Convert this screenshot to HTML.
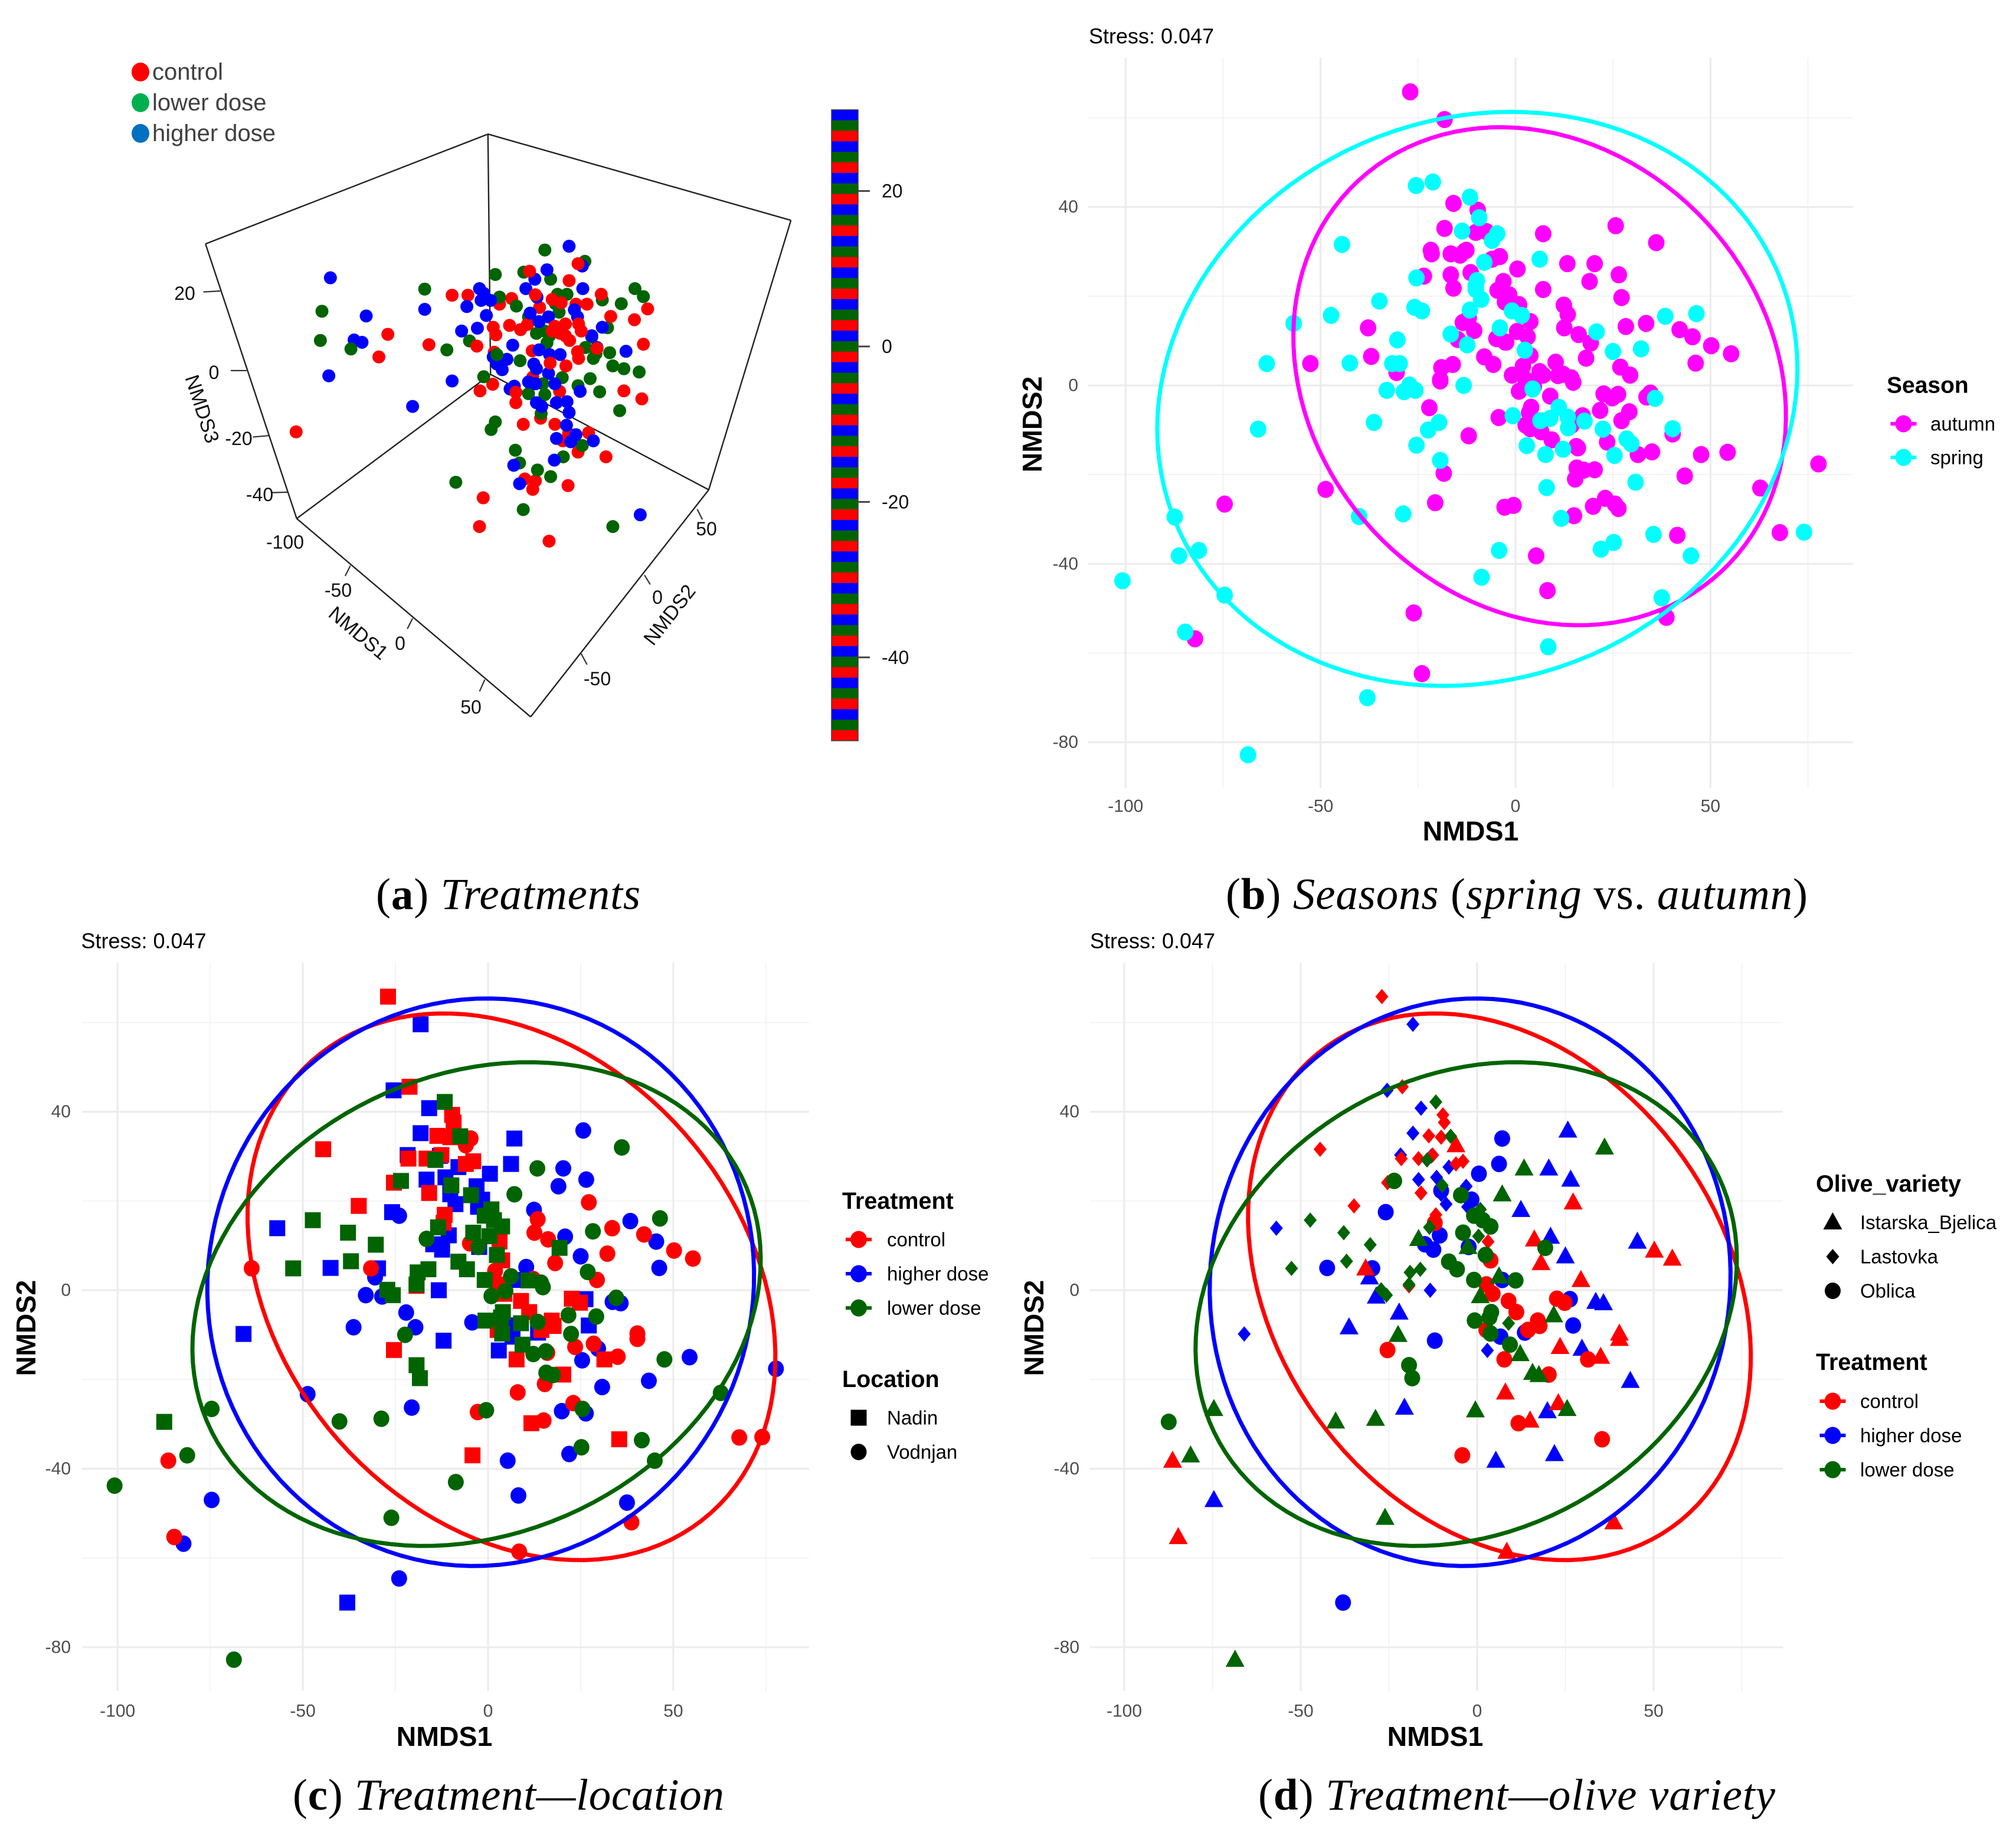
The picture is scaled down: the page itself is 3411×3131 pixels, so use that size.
<!DOCTYPE html>
<html lang="en">
<head>
<meta charset="utf-8">
<title>NMDS ordination panels</title>
<style>
html,body{margin:0;padding:0;background:#fff;}
#figure{display:block;width:3411px;height:3131px;font-family:"Liberation Sans",sans-serif;}
</style>
</head>
<body>
<svg id="figure" xmlns="http://www.w3.org/2000/svg" width="3411" height="3131" viewBox="0 0 3411 3131"></svg>
<script>
const A = 'autumn';
const S = 'spring';

// Sample scores: [NMDS1, NMDS2, season], grouped by treatment and olive variety
const controlLastovka = [[-27,65.8,A],[-21.2,45.6,S],[-44.5,31.6,S],[-34.9,18.9,S],[-9.7,39.3,A],[-9.3,37.6,S],[-13.7,34.6,S],[-10.2,34.3,A],[-12.6,30.3,A],[-16.6,29.5,A],[-4,28.9,A],[-6,28.3,A],[-25.4,24.1,S],[-21.5,29.5,A],[-15.9,21.8,A],[-11.7,16.9,S],[0.9,18.1,A],[3.1,10.9,A],[-19.3,1,A]];
const controlOblica = [[3.8,6.7,A],[2.6,1.3,A],[4.4,-0.8,S],[8.9,-2.4,A],[11.1,-4.9,S],[2.6,-8.9,A],[14.4,-8.9,A],[17.2,-6.8,A],[17.7,-8,S],[22.6,-1.9,A],[24.8,-2.8,A],[-25.4,-13.4,S],[7.7,-15.5,S],[20.3,-18.9,A],[31.4,-15.5,A],[11.7,-29.8,S],[35.4,-33.4,S],[-4.2,-37,S],[-12,15.1,A]];
const controlIstarska = [[-6,32.5,S],[27.2,19.7,A],[16.2,11.4,A],[18.1,6.1,A],[29.4,2.3,A],[-31.6,4.9,S],[50.2,8.9,A],[55.3,7.1,A],[23.5,-12.7,A],[40.3,-9.7,S],[40.3,-10.9,A],[35,-14.9,A],[8,-22.9,S],[23,-25.3,A],[15,-29.2,A],[38.7,-52,A],[8.4,-58.6,S],[-86.3,-38.2,S],[-84.7,-55.3,S]];
const controlUnassigned = [[67.8,-33,A],[74,-32.9,S],[-63.8,4.9,S],[-4.7,34,S],[1.9,4.3,A],[-4.9,10.5,A],[13.4,15.9,A],[12.5,12.9,A],[33.5,13.9,A],[42.1,12.5,A],[32.2,8.2,S],[12.2,2.5,A],[28.5,-12,S],[16,-14,A],[15.3,-21,A],[-2.8,-27.3,A]];

const higherLastovka = [[-18.2,59.6,A],[-25.5,44.8,S],[-15.9,40.8,A],[-18.2,35.2,A],[-21.7,30.3,A],[-13,30.1,A],[-8,27.6,S],[-16.6,24.8,A],[-11.5,25.3,A],[-3.1,23.3,A],[-8.8,19.3,S],[-10.2,21.5,S],[-56.9,13.9,S],[-13.3,0,S],[-66,-9.8,S],[2.9,-13.5,S],[-2.7,18.7,A]];
const higherOblica = [[7.1,34,A],[6.2,28.3,S],[0.5,26.1,A],[-10.2,22.3,S],[-1.6,20.3,A],[-25.9,17.5,S],[-10.6,12.3,A],[-14.8,10.3,A],[-12.4,9.1,S],[-2.4,9.7,A],[-42.5,5,S],[-29.7,4.9,S],[7.1,2.3,A],[26.3,-2,A],[27.2,-7.9,A],[-12,-11.3,A],[6.6,-10.4,A],[13.5,-9.5,S],[-38,-70,S]];
const higherIstarska = [[25.7,35.8,A],[20.3,27.3,A],[26.5,24.8,A],[12.4,18,A],[20.8,12,S],[25,7.6,S],[45.4,10.9,A],[6.2,3.1,A],[-30.5,2.9,A],[-28.6,-1.4,S],[-22.1,-5,A],[-36.3,-8.3,S],[33.6,-2.6,A],[35.8,-2.9,S],[29.7,-13.1,S],[43.4,-20.3,A],[-20.6,-26.3,A],[19.9,-27.1,A],[21.9,-36.7,S],[5.3,-38.2,A],[-74.6,-47,S]];
const higherUnassigned = [[54.4,-15,A],[77.7,-17.6,A],[46.2,5,A],[38.4,15.5,S],[10.3,5.2,A],[19,23.3,A],[-48.7,-23.3,A],[-24,-64.6,A],[-82.2,-56.8,A],[8.2,-46,A],[37.5,-47.6,S],[30.8,-21.7,S],[25.4,-15.7,S],[26.4,-27.6,A],[-4.3,-7.2,A],[6.4,-7.9,S],[-19.6,-8.3,S],[-33,-1.1,S],[-24,16.7,S]];

const lowerLastovka = [[-11.7,42.2,S],[-7.5,34.5,A],[-14.2,29.2,A],[-9.9,23.5,S],[-47.3,15.7,S],[-37.8,12.9,A],[-30.3,10.2,S],[-37,6.5,A],[-52.6,4.9,A],[-19,4,A],[-16.1,4.7,A],[-19.3,1.3,A],[-25.7,-1.1,S],[-27.2,0.1,S],[-13.5,14.1,A],[0.4,12.1,A],[8.9,-7.4,S],[0.9,18.1,A]];
const lowerOblica = [[-23.5,24.5,A],[-4.6,21.3,A],[-0.9,16.7,S],[1.6,15.7,S],[3.8,14.3,A],[-4,12.9,S],[19.3,9.5,A],[2.4,7.9,S],[-8,6.4,A],[-5.7,4.7,A],[-0.9,2.3,A],[10.9,2.2,A],[4,-4.9,A],[3.5,-6.1,A],[-0.7,-6.8,S],[3.8,-9.7,A],[9.3,-12.2,A],[-19.3,-16.8,S],[-18.4,-19.7,A],[-87.4,-29.5,S]];
const lowerIstarska = [[36.1,32,A],[13.3,27.3,A],[7.1,21.5,A],[-16.6,11.5,S],[-2.6,9.7,A],[6.2,3.1,A],[0.9,-1.3,A],[21.7,-5.6,A],[-22.4,-10,S],[12.2,-14.3,S],[15.7,-18.5,A],[17.5,-19,A],[-74.6,-26.6,A],[-40.1,-29.4,S],[-28.8,-28.8,S],[-0.5,-26.9,A],[25.5,-26.6,A],[-81.2,-37,S],[-26.1,-51,A],[-68.6,-82.8,S]];
const lowerUnassigned = [[46.4,16.1,S],[28.3,13.2,A],[26.9,4.1,A],[47.6,-15.5,A],[62.8,-23,A],[41.5,-33.6,A],[45,-38.2,S],[25.2,-35.2,S],[-8.7,-43,S],[-100.8,-43.8,S],[34.6,-1.7,A],[29.2,-5.9,A],[22.4,-9.8,S],[14.3,1.7,A],[14.8,0.7,A],[4.7,-0.2,A],[13.4,-7.1,S],[15.6,-13.7,A]];

// Confidence ellipse outline samples, in NMDS units
const ellipseAutumn = [[-3.5,57.8],[13.9,55.4],[27.9,50.6],[42,42.8],[55.2,29.6],[65.1,15.2],[68.9,0.8],[69.3,-10],[65.1,-23.1],[57.7,-36.3],[48.6,-45.9],[38.7,-50.7],[27.1,-52.5],[17.2,-53.5],[4,-52.5],[-9.3,-48.9],[-22.5,-42.9],[-35.7,-33.9],[-47.3,-20.7],[-53.9,-5.2],[-56,9.2],[-53.9,28.4],[-47.3,39.8],[-37.4,48.2],[-24.1,54.6],[-12.6,57.2]];
const ellipseSpring = [[-1,61.2],[13.9,60.2],[27.1,57.2],[40.3,51.8],[51.9,44],[61.8,34.4],[69.3,22.4],[72.1,8],[71.7,-2.8],[67.6,-17.1],[58.5,-33.3],[46.9,-44.7],[33.7,-53.1],[20.5,-59.7],[7.3,-64.5],[-6,-66.9],[-20.8,-67.7],[-34,-66.3],[-47.3,-62.7],[-60.5,-57.3],[-72.1,-49.5],[-82,-39.9],[-88.6,-27.9],[-91.4,-13.5],[-91.1,-4],[-87.8,10.4],[-80.3,24.8],[-67.1,38.6],[-52.2,48.2],[-35.7,55.4],[-19.2,59.6]];
const ellipseControl = [[-13.6,62.5],[0.3,61.3],[12.5,58.3],[24.7,53.5],[38.6,46.3],[50.8,36.7],[61.2,26.5],[69.9,14.5],[76,-3.5],[77.7,-14.3],[76,-27.5],[69.9,-40.6],[59.4,-50.2],[47.3,-56.2],[35.1,-59.5],[22.9,-60.4],[9,-59.2],[-4.9,-55.6],[-18.8,-49],[-32.7,-40],[-46.6,-27.5],[-57,-11.9],[-63.1,2.5],[-64.8,14.5],[-63.1,28.9],[-57,42.1],[-46.6,51.7],[-34.4,58.3],[-24,61.3]];
const ellipseHigher = [[-0.5,65.2],[12.5,64.3],[24.7,61.3],[38.6,54.7],[50.8,46.9],[61.2,37.3],[68.1,26.5],[71.3,10.9],[70.7,-3.5],[66.4,-20.3],[57.7,-34.6],[45.5,-45.4],[33.4,-52.6],[21.2,-58],[7.3,-61.6],[-4.9,-62.3],[-18.8,-61],[-32.7,-56.8],[-46.6,-49],[-58.8,-39.4],[-67.4,-28.7],[-73.5,-15.5],[-75.8,-1.1],[-74.4,13.3],[-67.4,30.1],[-57,42.7],[-44.8,52.9],[-30.9,60.1],[-15.3,64.3]];
const ellipseLower = [[12.5,51.1],[24.7,50.2],[38.6,47.1],[52.5,41.5],[62.9,33.7],[69,24.1],[71.6,6.1],[69.9,-4.7],[62.9,-22.7],[52.5,-34.6],[40.3,-43],[26.4,-48.4],[12.5,-52],[-1.4,-55.6],[-18.8,-56.8],[-34.4,-55.6],[-50.1,-50.8],[-64,-44.2],[-74.4,-34.6],[-78.7,-22.7],[-79.6,-13.1],[-77,1.3],[-70.9,12.1],[-62.2,22.9],[-50.1,32.5],[-34.4,41.5],[-17,47.5],[-1.4,50.5]];

// 3D scatter scores in view-plane units [across, up] relative to the rear box corner
const view3dControl = [[-36.6,-12.4],[-19.2,8.3],[-20.9,3.5],[-11.4,6.1],[-7,16.6],[-4,16.6],[4.3,15.9],[2,14.7],[-2.3,5.8],[0.8,9.8],[1.3,8.2],[3.9,10.2],[6,9.3],[7.3,10.4],[1,4.5],[8.2,4.8],[9.6,14],[12,15.7],[13.7,15],[16.5,14.7],[18.6,14.7],[21.3,16.8],[23.1,12.1],[27.6,11.4],[30.1,13.7],[29.3,6.2],[25.6,-3.7],[29,-5.4],[7.7,21.7],[15.2,19.7],[16.9,23.3],[8.8,16.7],[-1.7,-3.7],[0.7,-2.3],[5.1,-4],[5.1,-6.2],[8.3,-0.8],[13.4,-3.8],[6.5,-10.8],[9.8,-9.5],[12.5,-10.8],[15.1,-12.8],[14,-14.3],[18.9,-12.6],[16.9,-16.7],[22.2,-17.7],[6.8,-22.4],[8.8,-22.8],[8.3,-24.6],[15,-23.8],[-1.1,-26.4],[-1.8,-32.5],[11.4,-35.6],[14.6,1.6],[11.6,2.2],[17,3.2],[16.8,4.6],[20.5,5.3],[14.5,10.5],[17,10.5],[17.5,9],[14.5,8],[15.3,7],[12.5,10],[12,9],[13.5,8.5]];
const view3dHigher = [[-30.1,20.3],[-23.3,12.2],[-25.6,7.1],[-24.1,6.6],[-30.4,-0.5],[-12.2,13.6],[-14.5,-7],[-7,-1.6],[-4.2,14.2],[-1.8,18],[-1,17],[-1.5,15.5],[0.3,15.5],[-0.5,12.3],[-5.2,9],[-2.2,9.6],[4.5,6],[0.8,3.5],[3.4,3],[1.5,2],[2.5,0.8],[4,-3.3],[4.8,-2.7],[7,18],[8.7,20],[11,22],[15.2,27],[17.7,22.8],[17.8,18],[9.1,16.2],[7.8,12.8],[9.5,11],[11.3,12],[16.2,13.5],[16.8,12],[21.5,9.8],[19.5,8],[20.5,5.5],[26,4.7],[9.5,5],[11.5,4],[13.5,4],[8.5,2],[9,1],[11.3,0],[12.5,-2.2],[7.5,-1.8],[8.8,-2.2],[17.3,-3.8],[9,-6.2],[10,-7],[12.8,-6.2],[14.8,-6],[15.2,-8.3],[14.7,-11],[16.5,-13],[12.8,-13.8],[15.5,-14.5],[19.8,-14.3],[12.4,-18.4],[4.7,-19.5],[5.8,-23.4],[28.7,-30]];
const view3dLower = [[-31.7,13.2],[-32,7],[-26.2,5.2],[-12.2,17.9],[-8,5],[-3.7,6.9],[1.2,21],[6.6,21.5],[11.7,20],[10.6,26.2],[18.2,23.8],[2,16.2],[5.2,14.3],[7.5,12],[13,16.8],[14.8,16.8],[12.6,14.8],[13.3,13],[21.5,15.6],[25.1,14.8],[27.7,18],[29.3,16.3],[22.5,9.7],[9,8.5],[10.5,9],[11.5,8],[11,6.5],[19.5,7.7],[18.3,5.5],[22.9,4.4],[20.3,4.2],[19.8,3.2],[23.5,1.6],[25.6,1],[28.5,0.3],[19.2,-1.1],[16.9,-2.6],[21,-3.9],[24.8,-7.9],[5.9,2.7],[-1,-0.7],[1.5,4],[13.9,-0.9],[7.5,-4.3],[10.2,-2.2],[10.6,-4.5],[9.9,-8.5],[1.2,-10.3],[0.4,-11.9],[17.7,-15.3],[5,-16.3],[5.8,-19],[14.1,-17.7],[9.2,-20.5],[11.7,-21.9],[-6.3,-23.1],[6.5,-28.9],[23.5,-32.5]];

// Tick labels
const xTicks = [-100,-50,0,50];
const yTicks = [-80,-40,0,40];
const xMinorTicks = [-75,-25,25,75];
const yMinorTicks = [-60,-20,20,60];
const colorbarTicks = [20,0,-20,-40];
const colorbarBands = 60;
const stressLabel = 'Stress: 0.047';

const RED = '#ff0000', BLUE = '#0000ff', GREEN = '#006400', MAGENTA = '#ff00ff', CYAN = '#00ffff';
const svg = document.getElementById('figure');
const NS = 'http://www.w3.org/2000/svg';

function add(parent, tag, attrs, name, text) {
  const el = document.createElementNS(NS, tag);
  for (const k in attrs) el.setAttribute(k, attrs[k]);
  
  
  if (text !== undefined) el.textContent = text;
  parent.appendChild(el);
  return el;
}

function label(parent, x, y, str, size, name, opts) {
  const o = opts || {};
  const attrs = {x: x, y: y, 'font-size': size, 'font-family': '"Liberation Sans", sans-serif', 'dominant-baseline': 'central', 'text-anchor': o.anchor || 'start', fill: o.fill || '#000'};
  if (o.bold) attrs['font-weight'] = 'bold';
  if (o.rotate !== undefined) attrs.transform = 'rotate(' + o.rotate + ' ' + x + ' ' + y + ')';
  return add(parent, 'text', attrs, name, str);
}

// Least-squares conic fit of the outline samples, drawn as a true ellipse
function solve(M, v) {
  const n = v.length;
  const a = M.map((r, i) => r.concat([v[i]]));
  for (let i = 0; i < n; i++) {
    let p = i;
    for (let r = i + 1; r < n; r++) if (Math.abs(a[r][i]) > Math.abs(a[p][i])) p = r;
    const tmp = a[i]; a[i] = a[p]; a[p] = tmp;
    for (let r = 0; r < n; r++) {
      if (r === i) continue;
      const f = a[r][i] / a[i][i];
      for (let c = i; c <= n; c++) a[r][c] -= f * a[i][c];
    }
  }
  return a.map((r, i) => r[n] / r[i]);
}

function ellipsePath(points, sx, sy) {
  const s = 100;
  const M = [0,1,2,3,4].map(() => [0,0,0,0,0]);
  const V = [0,0,0,0,0];
  points.forEach(p => {
    const x = p[0] / s, y = p[1] / s;
    const row = [x * x, x * y, y * y, x, y];
    for (let i = 0; i < 5; i++) {
      V[i] += row[i];
      for (let j = 0; j < 5; j++) M[i][j] += row[i] * row[j];
    }
  });
  const q = solve(M, V);
  const a = q[0], b = q[1], c = q[2], d = q[3], e = q[4];
  const det = 4 * a * c - b * b;
  const xc = (b * e - 2 * c * d) / det;
  const yc = (b * d - 2 * a * e) / det;
  const F = 1 - (a * xc * xc + b * xc * yc + c * yc * yc + d * xc + e * yc);
  const th = 0.5 * Math.atan2(b, a - c);
  const ct = Math.cos(th), st = Math.sin(th);
  const l1 = a * ct * ct + b * st * ct + c * st * st;
  const l2 = a * st * st - b * st * ct + c * ct * ct;
  const r1 = Math.sqrt(F / l1), r2 = Math.sqrt(F / l2);
  let path = '';
  const steps = 120;
  for (let i = 0; i < steps; i++) {
    const t = i / steps * 2 * Math.PI;
    const u = r1 * Math.cos(t) * ct - r2 * Math.sin(t) * st;
    const v = r1 * Math.cos(t) * st + r2 * Math.sin(t) * ct;
    path += (i ? 'L' : 'M') + sx((xc + u) * s).toFixed(1) + ' ' + sy((yc + v) * s).toFixed(1);
  }
  return path + 'Z';
}

function drawMark(parent, shape, cx, cy, color, name, r) {
  if (shape === 'circle') {
    return add(parent, 'ellipse', {cx: cx, cy: cy, rx: r, ry: r + 0.5, fill: color}, name);
  }
  if (shape === 'square') {
    return add(parent, 'rect', {x: cx - 13.5, y: cy - 13.5, width: 27, height: 27, fill: color}, name);
  }
  if (shape === 'triangle') {
    return add(parent, 'polygon', {points: cx + ',' + (cy - 17) + ' ' + (cx + 16) + ',' + (cy + 12) + ' ' + (cx - 16) + ',' + (cy + 12), fill: color}, name);
  }
  return add(parent, 'polygon', {points: cx + ',' + (cy - 13) + ' ' + (cx + 11) + ',' + cy + ' ' + cx + ',' + (cy + 13) + ' ' + (cx - 11) + ',' + cy, fill: color}, name);
}

function makePanel(id, cfg) {
  const g = add(svg, 'g', {}, id);
  const sx = v => cfg.x0 + v * cfg.kx;
  const sy = v => cfg.y0 - v * cfg.ky;
  const grid = add(g, 'g', {}, id + '-grid');
  xMinorTicks.forEach(t => add(grid, 'line', {x1: sx(t), x2: sx(t), y1: cfg.top, y2: cfg.bottom, stroke: '#f1f1f1', 'stroke-width': 1.6}, 'minor-gridline-x'));
  yMinorTicks.forEach(t => add(grid, 'line', {x1: cfg.left, x2: cfg.right, y1: sy(t), y2: sy(t), stroke: '#f1f1f1', 'stroke-width': 1.6}, 'minor-gridline-y'));
  xTicks.forEach(t => add(grid, 'line', {x1: sx(t), x2: sx(t), y1: cfg.top, y2: cfg.bottom, stroke: '#ececec', 'stroke-width': 3.2}, 'major-gridline-x'));
  yTicks.forEach(t => add(grid, 'line', {x1: cfg.left, x2: cfg.right, y1: sy(t), y2: sy(t), stroke: '#ececec', 'stroke-width': 3.2}, 'major-gridline-y'));
  xTicks.forEach(t => label(g, sx(t), cfg.xTickY, String(t), 30, 'x-tick-label', {anchor: 'middle', fill: '#4d4d4d'}));
  yTicks.forEach(t => label(g, cfg.yTickRight, sy(t), String(t), 30, 'y-tick-label', {anchor: 'end', fill: '#4d4d4d'}));
  label(g, cfg.stressX, cfg.stressY, stressLabel, 36, 'stress-label');
  label(g, cfg.xTitleX, cfg.xTitleY, 'NMDS1', 46.5, 'x-axis-title', {anchor: 'middle', bold: true});
  label(g, cfg.yTitleX, cfg.yTitleY, 'NMDS2', 46.5, 'y-axis-title', {anchor: 'middle', bold: true, rotate: -90});
  return {g: g, sx: sx, sy: sy};
}

function legendKeyLine(g, x, y, color, name) {
  const key = add(g, 'g', {}, name);
  add(key, 'line', {x1: x - 22, x2: x + 22, y1: y, y2: y, stroke: color, 'stroke-width': 6}, name + '-line');
  add(key, 'ellipse', {cx: x, cy: y, rx: 14, ry: 14.5, fill: color}, name + '-dot');
}

/* ---------- Panel a: 3D scatter ---------- */
const panelA = add(svg, 'g', {}, 'panel-a-treatments');
const vx = u => 828.6 + 8.929 * u;
const vy = v => 632.7 - 7.982 * v;
const boxCorners = {topBack: [-0.2,50.8], leftTop: [-53.8,27.5], rightTop: [57.3,32.5], center: [0.3,-0.2], leftBottom: [-36.5,-30.8], rightBottom: [41.7,-24.7], bottom: [7.9,-72.9]};
const boxEdges = [['topBack','leftTop'],['topBack','rightTop'],['topBack','center'],['leftTop','leftBottom'],['rightTop','rightBottom'],['center','leftBottom'],['center','rightBottom'],['leftBottom','bottom'],['rightBottom','bottom']];
boxEdges.forEach(e => {
  const a = boxCorners[e[0]], b = boxCorners[e[1]];
  add(panelA, 'line', {x1: vx(a[0]), y1: vy(a[1]), x2: vx(b[0]), y2: vy(b[1]), stroke: '#222', 'stroke-width': 2.4}, 'box-edge');
});
const boxTicks = [[-54.2,17.3,-51,17.5],[-49,0.6,-46,0.6],[-44.8,-13.5,-41.8,-13.2],[-41.2,-25.3,-38.2,-25.2],[-26.3,-40.8,-27.3,-43],[-14.5,-52,-15.5,-54.2],[-0.8,-65,-1.8,-67.5],[39.5,-28.8,40.5,-31],[29.5,-42.8,30.6,-44.8],[17.5,-59.5,18.6,-61.8]];
boxTicks.forEach(t => add(panelA, 'line', {x1: vx(t[0]), y1: vy(t[1]), x2: vx(t[2]), y2: vy(t[3]), stroke: '#333', 'stroke-width': 2.2}, 'box-tick'));
const box3dLabels = [['20',313,497],['0',362.5,631],['-20',404.5,743],['-40',440,838],['-100',483,918.5],['-50',573,1000],['0',678,1090],['50',798,1198],['50',1197,896],['0',1114,1012],['-50',1012,1150]];
box3dLabels.forEach(l => label(panelA, l[1], l[2], l[0], 32, 'axis-3d-tick-label', {anchor: 'middle', fill: '#111'}));
label(panelA, 607, 1073, 'NMDS1', 34, 'nmds1-3d-title', {anchor: 'middle', rotate: 40, fill: '#111'});
label(panelA, 1135, 1042, 'NMDS2', 34, 'nmds2-3d-title', {anchor: 'middle', rotate: -52, fill: '#111'});
label(panelA, 342, 693, 'NMDS3', 34, 'nmds3-3d-title', {anchor: 'middle', rotate: 72, fill: '#111'});

// Points are interleaved across treatments so overlaps mix as in a shuffled plot order
const view3dMax = Math.max(view3dHigher.length, view3dControl.length, view3dLower.length);
for (let i = 0; i < view3dMax; i++) {
  if (view3dHigher[i]) add(panelA, 'ellipse', {cx: vx(view3dHigher[i][0]), cy: vy(view3dHigher[i][1]), rx: 11, ry: 11, fill: BLUE}, 'point-3d-higher-dose');
  if (view3dLower[i]) add(panelA, 'ellipse', {cx: vx(view3dLower[i][0]), cy: vy(view3dLower[i][1]), rx: 11, ry: 11, fill: GREEN}, 'point-3d-lower-dose');
  if (view3dControl[i]) add(panelA, 'ellipse', {cx: vx(view3dControl[i][0]), cy: vy(view3dControl[i][1]), rx: 11, ry: 11, fill: RED}, 'point-3d-control');
}

// Colour bar
const cbY = v => 587 - 13.17 * v;
const cbTop = 186, cbBottom = 1255;
const bandColors = [BLUE, GREEN, RED];
const cbBandH = (cbBottom - cbTop) / colorbarBands;
const cbG = add(panelA, 'g', {}, 'colorbar');
for (let i = 0; i < colorbarBands; i++) {
  add(cbG, 'rect', {x: 1409, y: cbTop + i * cbBandH, width: 45, height: cbBandH + 0.5, fill: bandColors[i % 3]}, 'colorbar-band');
}
add(cbG, 'rect', {x: 1409, y: cbTop, width: 45, height: cbBottom - cbTop, fill: 'none', stroke: '#444', 'stroke-width': 1.6}, 'colorbar-frame');
colorbarTicks.forEach(t => {
  add(cbG, 'line', {x1: 1454, x2: 1474, y1: cbY(t), y2: cbY(t), stroke: '#444', 'stroke-width': 3}, 'colorbar-tick');
  label(cbG, 1494, cbY(t), String(t), 32, 'colorbar-tick-label', {fill: '#111'});
});

// Panel a legend
const legendA = add(panelA, 'g', {}, 'treatment-legend-3d');
const legendAEntries = [['control','#ff0000',122],['lower dose','#00b050',174],['higher dose','#0070c0',226]];
legendAEntries.forEach(e => {
  add(legendA, 'ellipse', {cx: 238, cy: e[2], rx: 15, ry: 16, fill: e[1]}, 'legend-dot');
  label(legendA, 258, e[2], e[0], 40, 'legend-label', {fill: '#404040'});
});

/* ---------- Shared group lists ---------- */
const allGroups = [controlLastovka, controlOblica, controlIstarska, controlUnassigned, higherLastovka, higherOblica, higherIstarska, higherUnassigned, lowerLastovka, lowerOblica, lowerIstarska, lowerUnassigned];

/* ---------- Panel b: seasons ---------- */
const b = makePanel('panel-b-seasons', {x0: 2568, kx: 6.607, y0: 653, ky: 7.558, left: 1844, right: 3140, top: 98, bottom: 1335, xTickY: 1366, yTickRight: 1827, stressX: 1845, stressY: 61, xTitleX: 2492, xTitleY: 1408, yTitleX: 1749, yTitleY: 719});
[A, S].forEach(season => {
  const color = season === A ? MAGENTA : CYAN;
  allGroups.forEach(group => group.filter(p => p[2] === season).forEach(p => {
    add(b.g, 'ellipse', {cx: b.sx(p[0]), cy: b.sy(p[1]), rx: 14, ry: 14.5, fill: color}, 'point-' + season);
  }));
});
add(b.g, 'path', {d: ellipsePath(ellipseAutumn, b.sx, b.sy), fill: 'none', stroke: MAGENTA, 'stroke-width': 7}, 'ellipse-autumn');
add(b.g, 'path', {d: ellipsePath(ellipseSpring, b.sx, b.sy), fill: 'none', stroke: CYAN, 'stroke-width': 7}, 'ellipse-spring');
const legendB = add(b.g, 'g', {}, 'season-legend');
label(legendB, 3197, 653, 'Season', 39, 'legend-title', {bold: true});
legendKeyLine(legendB, 3225.5, 718, MAGENTA, 'legend-key-autumn');
label(legendB, 3271, 718, 'autumn', 33, 'legend-label-autumn');
legendKeyLine(legendB, 3225.5, 775, CYAN, 'legend-key-spring');
label(legendB, 3271, 775, 'spring', 33, 'legend-label-spring');

/* ---------- Panel c: treatment by location ---------- */
const c = makePanel('panel-c-treatment-location', {x0: 827, kx: 6.278, y0: 2186, ky: 7.56, left: 139, right: 1371, top: 1631, bottom: 2865, xTickY: 2899, yTickRight: 120, stressX: 137.5, stressY: 1594, xTitleX: 753, xTitleY: 2942, yTitleX: 44, yTitleY: 2250});
const locationLayers = [
  [higherLastovka, BLUE, 'square'], [higherOblica, BLUE, 'square'], [higherIstarska, BLUE, 'circle'], [higherUnassigned, BLUE, 'circle'],
  [controlLastovka, RED, 'square'], [controlOblica, RED, 'square'], [controlIstarska, RED, 'circle'], [controlUnassigned, RED, 'circle'],
  [lowerLastovka, GREEN, 'square'], [lowerOblica, GREEN, 'square'], [lowerIstarska, GREEN, 'circle'], [lowerUnassigned, GREEN, 'circle']
];
locationLayers.forEach(layer => layer[0].forEach(p => {
  drawMark(c.g, layer[2], c.sx(p[0]), c.sy(p[1]), layer[1], 'point-location-' + layer[2], 13.5);
}));
add(c.g, 'path', {d: ellipsePath(ellipseControl, c.sx, c.sy), fill: 'none', stroke: RED, 'stroke-width': 7}, 'ellipse-control');
add(c.g, 'path', {d: ellipsePath(ellipseHigher, c.sx, c.sy), fill: 'none', stroke: BLUE, 'stroke-width': 7}, 'ellipse-higher-dose');
add(c.g, 'path', {d: ellipsePath(ellipseLower, c.sx, c.sy), fill: 'none', stroke: GREEN, 'stroke-width': 7}, 'ellipse-lower-dose');
const legendC = add(c.g, 'g', {}, 'treatment-location-legend');
label(legendC, 1427, 2035, 'Treatment', 39.5, 'legend-title-treatment', {bold: true});
legendKeyLine(legendC, 1455, 2100, RED, 'legend-key-control');
label(legendC, 1503, 2100, 'control', 33, 'legend-label-control');
legendKeyLine(legendC, 1455, 2158, BLUE, 'legend-key-higher-dose');
label(legendC, 1503, 2158, 'higher dose', 33, 'legend-label-higher-dose');
legendKeyLine(legendC, 1455, 2216, GREEN, 'legend-key-lower-dose');
label(legendC, 1503, 2216, 'lower dose', 33, 'legend-label-lower-dose');
label(legendC, 1427, 2337, 'Location', 39.5, 'legend-title-location', {bold: true});
drawMark(legendC, 'square', 1455, 2402, '#000', 'legend-key-nadin', 13.5);
label(legendC, 1503, 2402, 'Nadin', 33, 'legend-label-nadin');
drawMark(legendC, 'circle', 1455, 2460, '#000', 'legend-key-vodnjan', 13.5);
label(legendC, 1503, 2460, 'Vodnjan', 33, 'legend-label-vodnjan');

/* ---------- Panel d: treatment by olive variety ---------- */
const d = makePanel('panel-d-treatment-variety', {x0: 2503, kx: 5.98, y0: 2186, ky: 7.56, left: 1847, right: 3021, top: 1631, bottom: 2865, xTickY: 2899, yTickRight: 1829, stressX: 1847, stressY: 1594, xTitleX: 2432, xTitleY: 2942, yTitleX: 1752, yTitleY: 2250});
const varietyLayers = [
  [higherLastovka, BLUE, 'diamond'], [higherOblica, BLUE, 'circle'], [higherIstarska, BLUE, 'triangle'],
  [controlLastovka, RED, 'diamond'], [controlOblica, RED, 'circle'], [controlIstarska, RED, 'triangle'],
  [lowerLastovka, GREEN, 'diamond'], [lowerOblica, GREEN, 'circle'], [lowerIstarska, GREEN, 'triangle']
];
varietyLayers.forEach(layer => layer[0].forEach(p => {
  drawMark(d.g, layer[2], d.sx(p[0]), d.sy(p[1]), layer[1], 'point-variety-' + layer[2], 13.5);
}));
add(d.g, 'path', {d: ellipsePath(ellipseControl, d.sx, d.sy), fill: 'none', stroke: RED, 'stroke-width': 7}, 'ellipse-control');
add(d.g, 'path', {d: ellipsePath(ellipseHigher, d.sx, d.sy), fill: 'none', stroke: BLUE, 'stroke-width': 7}, 'ellipse-higher-dose');
add(d.g, 'path', {d: ellipsePath(ellipseLower, d.sx, d.sy), fill: 'none', stroke: GREEN, 'stroke-width': 7}, 'ellipse-lower-dose');
const legendD = add(d.g, 'g', {}, 'treatment-variety-legend');
label(legendD, 3077, 2006, 'Olive_variety', 39.5, 'legend-title-olive-variety', {bold: true});
drawMark(legendD, 'triangle', 3105.5, 2071, '#000', 'legend-key-istarska-bjelica', 13.5);
label(legendD, 3152, 2071, 'Istarska_Bjelica', 33, 'legend-label-istarska-bjelica');
drawMark(legendD, 'diamond', 3105.5, 2129, '#000', 'legend-key-lastovka', 13.5);
label(legendD, 3152, 2129, 'Lastovka', 33, 'legend-label-lastovka');
drawMark(legendD, 'circle', 3105.5, 2187, '#000', 'legend-key-oblica', 13.5);
label(legendD, 3152, 2187, 'Oblica', 33, 'legend-label-oblica');
label(legendD, 3077, 2308, 'Treatment', 39.5, 'legend-title-treatment', {bold: true});
legendKeyLine(legendD, 3105.5, 2374, RED, 'legend-key-control');
label(legendD, 3152, 2374, 'control', 33, 'legend-label-control');
legendKeyLine(legendD, 3105.5, 2432, BLUE, 'legend-key-higher-dose');
label(legendD, 3152, 2432, 'higher dose', 33, 'legend-label-higher-dose');
legendKeyLine(legendD, 3105.5, 2490, GREEN, 'legend-key-lower-dose');
label(legendD, 3152, 2490, 'lower dose', 33, 'legend-label-lower-dose');

/* ---------- Captions ---------- */
function caption(x, y, width, letter, parts, name) {
  const t = add(svg, 'text', {x: x, y: y, 'font-size': 75, 'font-family': '"Liberation Serif", serif', fill: '#000', textLength: width, lengthAdjust: 'spacing'}, name);
  const pieces = [['(', ''], [letter, 'b'], [') ', '']].concat(parts);
  pieces.forEach(p => {
    const s = document.createElementNS(NS, 'tspan');
    if (p[1] === 'b') s.setAttribute('font-weight', 'bold');
    if (p[1] === 'i') s.setAttribute('font-style', 'italic');
    s.textContent = p[0];
    t.appendChild(s);
  });
}
caption(637, 1540, 448, 'a', [['Treatments','i']], 'caption-a');
caption(2077, 1540, 986, 'b', [['Seasons','i'],[' (',''],['spring','i'],[' vs. ',''],['autumn','i'],[')','']], 'caption-b');
caption(496, 3066, 731, 'c', [['Treatment\u2014location','i']], 'caption-c');
caption(2132, 3066, 876, 'd', [['Treatment\u2014olive variety','i']], 'caption-d');
</script>
</body>
</html>
